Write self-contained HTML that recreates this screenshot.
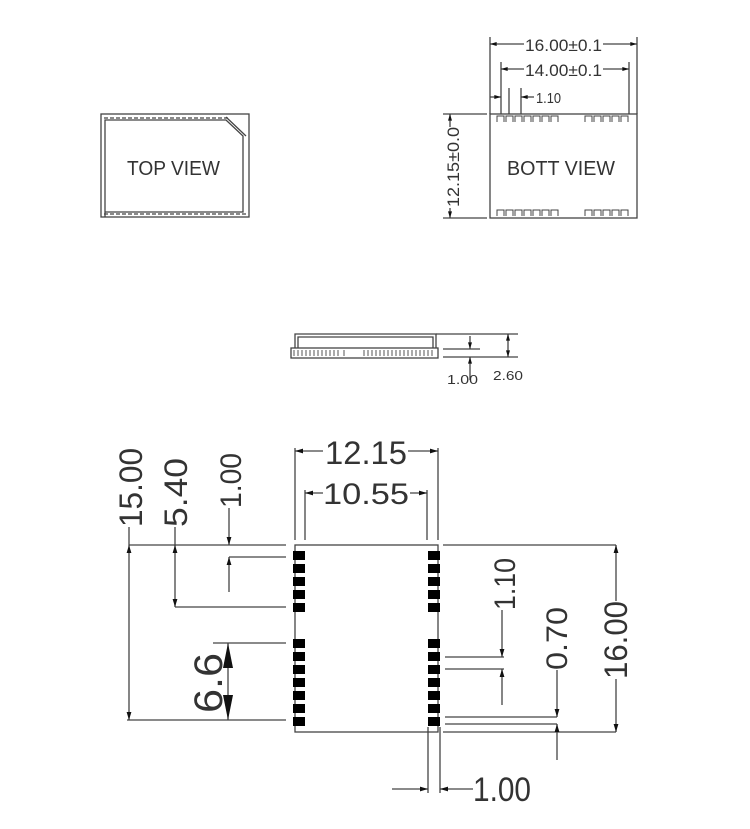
<!DOCTYPE html>
<html><head><meta charset="utf-8"><style>
html,body{margin:0;padding:0;background:#fff;}
svg{display:block;}
text{font-family:"Liberation Sans",sans-serif;fill:#333;}
</style></head><body>
<svg width="750" height="829" viewBox="0 0 750 829" xmlns="http://www.w3.org/2000/svg">
<defs>
<marker id="a" viewBox="0 0 10 6" refX="10" refY="3" markerWidth="8" markerHeight="5" orient="auto-start-reverse" markerUnits="userSpaceOnUse"><path d="M0,0L10,3L0,6z" fill="#111"/></marker>
<marker id="s" viewBox="0 0 10 6" refX="10" refY="3" markerWidth="7" markerHeight="4" orient="auto-start-reverse" markerUnits="userSpaceOnUse"><path d="M0,0L10,3L0,6z" fill="#111"/></marker>
<marker id="b" viewBox="0 0 10 4" refX="10" refY="2" markerWidth="26" markerHeight="10" orient="auto-start-reverse" markerUnits="userSpaceOnUse"><path d="M0,0L10,2L0,4z" fill="#111"/></marker>
</defs>
<g stroke="#444" stroke-width="1.3" fill="none">
<!-- TOP VIEW -->
<rect x="101" y="114" width="148" height="103"/>
<path d="M105,217V120H226L243,136V212H105"/>
<path d="M226,117L246,136" />
<path d="M104,118H228" stroke-dasharray="4,2"/>
<path d="M104,214H246" stroke-dasharray="4,2"/>
<!-- BOTT VIEW -->
<rect x="490" y="114" width="147" height="104"/>
<line x1="490" y1="37" x2="490" y2="114"/><line x1="637" y1="37" x2="637" y2="114"/>
<line x1="501" y1="62" x2="501" y2="114"/><line x1="629" y1="62" x2="629" y2="114"/>
<line x1="509" y1="88" x2="509" y2="114"/><line x1="521" y1="88" x2="521" y2="114"/>
<line x1="490" y1="44" x2="524" y2="44" marker-start="url(#s)"/><line x1="603" y1="44" x2="637" y2="44" marker-end="url(#s)"/>
<line x1="501" y1="69" x2="524" y2="69" marker-start="url(#s)"/><line x1="603" y1="69" x2="629" y2="69" marker-end="url(#s)"/>
<line x1="490" y1="97" x2="501" y2="97" marker-end="url(#s)"/><line x1="534" y1="97" x2="521" y2="97" marker-end="url(#s)"/>
<line x1="443" y1="114" x2="487" y2="114"/><line x1="443" y1="218" x2="487" y2="218"/>
<line x1="450" y1="127" x2="450" y2="114" marker-end="url(#s)"/><line x1="450" y1="208" x2="450" y2="218" marker-end="url(#s)"/>
<g stroke-width="1">
<path d="M497,122V116h7v6M506,122V116h7v6M515,122V116h7v6M524,122V116h7v6M533,122V116h7v6M542,122V116h7v6M551,122V116h7v6M585,122V116h7v6M594,122V116h7v6M603,122V116h7v6M612,122V116h7v6M621,122V116h7v6"/>
<path d="M497,216V210h7v6M506,216V210h7v6M515,216V210h7v6M524,216V210h7v6M533,216V210h7v6M542,216V210h7v6M551,216V210h7v6M585,216V210h7v6M594,216V210h7v6M603,216V210h7v6M612,216V210h7v6M621,216V210h7v6"/>
</g>
<!-- SIDE VIEW -->
<path d="M295,348V334H436V348"/>
<path d="M298,348V337H433V348"/>
<rect x="291" y="348" width="147" height="10"/>
<path d="M294,350V356M298,350V356M302,350V356M306,350V356M310,350V356M314,350V356M318,350V356M322,350V356M326,350V356M330,350V356M334,350V356M338,350V356M344,350V356M364,350V356M368,350V356M372,350V356M376,350V356M380,350V356M384,350V356M388,350V356M392,350V356M396,350V356M400,350V356M404,350V356M408,350V356M412,350V356M416,350V356M420,350V356M424,350V356M428,350V356M432,350V356" stroke-width="0.9"/>
<line x1="436" y1="334" x2="518" y2="334"/><line x1="443" y1="349" x2="480" y2="349"/><line x1="443" y1="357" x2="518" y2="357"/>
<line x1="470" y1="336" x2="470" y2="349" marker-end="url(#s)"/><line x1="470" y1="380" x2="470" y2="357" marker-end="url(#s)"/>
<line x1="508" y1="345" x2="508" y2="334" marker-end="url(#s)"/><line x1="508" y1="345" x2="508" y2="357" marker-end="url(#s)"/>
<!-- FOOTPRINT -->
<rect x="295" y="545" width="143" height="187"/>
<line x1="295" y1="448" x2="295" y2="540"/><line x1="305" y1="490" x2="305" y2="540"/>
<line x1="427" y1="490" x2="427" y2="540"/><line x1="438" y1="448" x2="438" y2="540"/>
<line x1="428" y1="727" x2="428" y2="793"/><line x1="440" y1="727" x2="440" y2="793"/>
<line x1="323" y1="451" x2="295" y2="451" marker-end="url(#a)"/><line x1="408" y1="451" x2="438" y2="451" marker-end="url(#a)"/>
<line x1="323" y1="493" x2="305" y2="493" marker-end="url(#a)"/><line x1="410" y1="493" x2="427" y2="493" marker-end="url(#a)"/>
<line x1="129" y1="545" x2="286" y2="545"/><line x1="175" y1="607" x2="286" y2="607"/>
<line x1="229" y1="557" x2="286" y2="557"/><line x1="213" y1="643" x2="286" y2="643"/>
<line x1="127" y1="720" x2="286" y2="720"/>
<line x1="129" y1="527" x2="129" y2="545"/>
<line x1="129" y1="545" x2="129" y2="720" marker-start="url(#a)" marker-end="url(#a)"/>
<line x1="175" y1="527" x2="175" y2="545"/>
<line x1="175" y1="545" x2="175" y2="607" marker-start="url(#a)" marker-end="url(#a)"/>
<line x1="229" y1="508" x2="229" y2="545" marker-end="url(#a)"/>
<line x1="229" y1="592" x2="229" y2="557" marker-end="url(#a)"/>
<line x1="228" y1="643" x2="228" y2="720" marker-start="url(#b)" marker-end="url(#b)"/>
<line x1="443" y1="545" x2="616" y2="545"/><line x1="443" y1="732" x2="616" y2="732"/>
<line x1="616" y1="601" x2="616" y2="545" marker-end="url(#a)"/><line x1="616" y1="679" x2="616" y2="732" marker-end="url(#a)"/>
<line x1="445" y1="657" x2="504" y2="657"/><line x1="445" y1="669" x2="504" y2="669"/>
<line x1="502" y1="610" x2="502" y2="657" marker-end="url(#a)"/><line x1="502" y1="705" x2="502" y2="669" marker-end="url(#a)"/>
<line x1="445" y1="717" x2="557" y2="717"/><line x1="445" y1="724" x2="557" y2="724"/>
<line x1="557" y1="670" x2="557" y2="717" marker-end="url(#a)"/><line x1="557" y1="760" x2="557" y2="724" marker-end="url(#a)"/>
<line x1="392" y1="789" x2="428" y2="789" marker-end="url(#a)"/><line x1="473" y1="789" x2="440" y2="789" marker-end="url(#a)"/>
</g>
<g fill="#000">
<rect x="293" y="551" width="12" height="9"/><rect x="293" y="564" width="12" height="9"/><rect x="293" y="577" width="12" height="9"/><rect x="293" y="590" width="12" height="9"/><rect x="293" y="603" width="12" height="9"/>
<rect x="293" y="639" width="12" height="9"/><rect x="293" y="652" width="12" height="9"/><rect x="293" y="665" width="12" height="9"/><rect x="293" y="678" width="12" height="9"/><rect x="293" y="691" width="12" height="9"/><rect x="293" y="704" width="12" height="9"/><rect x="293" y="717" width="12" height="9"/>
<rect x="428" y="551" width="12" height="9"/><rect x="428" y="564" width="12" height="9"/><rect x="428" y="577" width="12" height="9"/><rect x="428" y="590" width="12" height="9"/><rect x="428" y="603" width="12" height="9"/>
<rect x="428" y="639" width="12" height="9"/><rect x="428" y="652" width="12" height="9"/><rect x="428" y="665" width="12" height="9"/><rect x="428" y="678" width="12" height="9"/><rect x="428" y="691" width="12" height="9"/><rect x="428" y="704" width="12" height="9"/><rect x="428" y="717" width="12" height="9"/>
</g>
<!-- texts -->
<text x="127" y="175" font-size="20" textLength="93" lengthAdjust="spacingAndGlyphs">TOP VIEW</text>
<text x="507" y="175" font-size="20" textLength="108" lengthAdjust="spacingAndGlyphs">BOTT VIEW</text>
<text x="525" y="51" font-size="17" textLength="77" lengthAdjust="spacingAndGlyphs">16.00±0.1</text>
<text x="525" y="76" font-size="17" textLength="77" lengthAdjust="spacingAndGlyphs">14.00±0.1</text>
<text x="536" y="103" font-size="15" textLength="25" lengthAdjust="spacingAndGlyphs">1.10</text>
<text transform="translate(459,207) rotate(-90)" font-size="17" textLength="80" lengthAdjust="spacingAndGlyphs">12.15±0.0</text>
<text x="447" y="384" font-size="13" textLength="31" lengthAdjust="spacingAndGlyphs">1.00</text>
<text x="493" y="380" font-size="13" textLength="30" lengthAdjust="spacingAndGlyphs">2.60</text>
<text x="325" y="464" font-size="32" textLength="82" lengthAdjust="spacingAndGlyphs">12.15</text>
<text x="323" y="504" font-size="30" textLength="86" lengthAdjust="spacingAndGlyphs">10.55</text>
<text transform="translate(142,527) rotate(-90)" font-size="32" textLength="79" lengthAdjust="spacingAndGlyphs">15.00</text>
<text transform="translate(187,527) rotate(-90)" font-size="32" textLength="69" lengthAdjust="spacingAndGlyphs">5.40</text>
<text transform="translate(241,508) rotate(-90)" font-size="30" textLength="55" lengthAdjust="spacingAndGlyphs">1.00</text>
<text transform="translate(222,713) rotate(-90)" font-size="40" textLength="60" lengthAdjust="spacingAndGlyphs">6.6</text>
<text transform="translate(627,679) rotate(-90)" font-size="32" textLength="78" lengthAdjust="spacingAndGlyphs">16.00</text>
<text transform="translate(515,610) rotate(-90)" font-size="30" textLength="52" lengthAdjust="spacingAndGlyphs">1.10</text>
<text transform="translate(567,670) rotate(-90)" font-size="30" textLength="63" lengthAdjust="spacingAndGlyphs">0.70</text>
<text x="473" y="801" font-size="34" textLength="58" lengthAdjust="spacingAndGlyphs">1.00</text>
</svg>
</body></html>
